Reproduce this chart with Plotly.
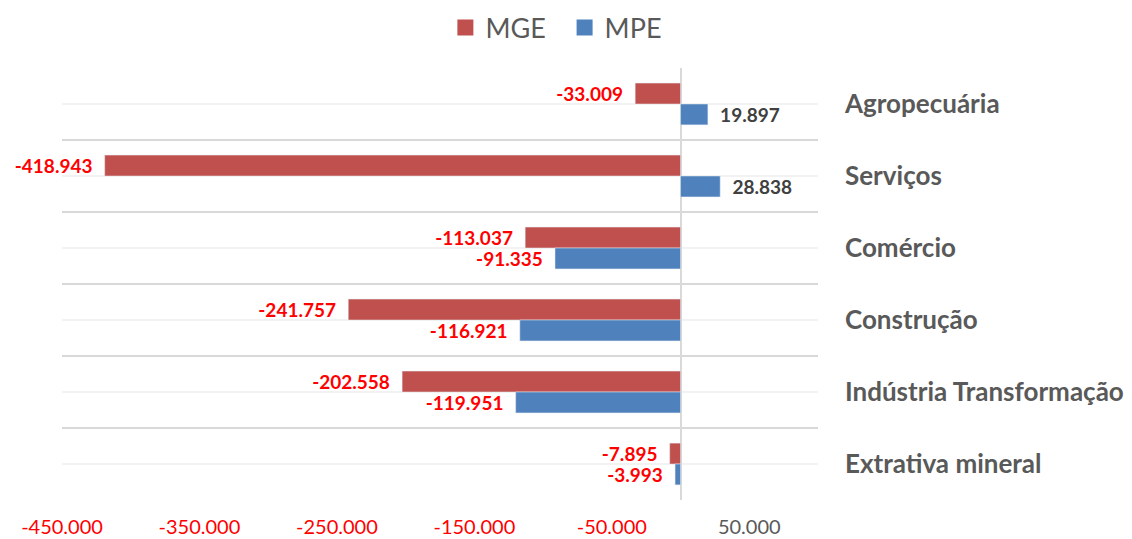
import plotly.graph_objects as go

# categories, top to bottom as read on the chart
categories = ["Agropecuária", "Serviços", "Comércio", "Construção",
              "Indústria Transformação", "Extrativa mineral"]
mge = [-33009, -418943, -113037, -241757, -202558, -7895]
mpe = [19897, 28838, -91335, -116921, -119951, -3993]

tick_vals = [-450000, -350000, -250000, -150000, -50000, 50000]
tick_text = ["-450.000", "-350.000", "-250.000", "-150.000", "-50.000", "50.000"]

RED = "#C0504D"
BLUE = "#4F81BD"
FONT = "Lato"


def label_colors(values):
    return ["#FF0000" if v < 0 else "#404040" for v in values]


fig = go.Figure()

for name, vals, color in [("MGE", mge, RED), ("MPE", mpe, BLUE)]:
    fig.add_trace(go.Bar(
        y=categories, x=vals, name=name, orientation="h",
        marker=dict(color=color), showlegend=False,
        texttemplate="\u00a0\u00a0%{x:,.0f}\u00a0\u00a0", textposition="outside",
        constraintext="none",
        textfont=dict(family=FONT, size=19, color=label_colors(vals), weight="bold"),
        cliponaxis=False,
    ))

# legend entries with bigger square swatches, like the original
for name, color in [("MGE\u00a0\u00a0", RED), ("MPE", BLUE)]:
    fig.add_trace(go.Scatter(
        x=[None], y=[None], mode="markers", name=name,
        marker=dict(symbol="square", size=18, color=color),
    ))

# light gridline through the middle of each category band
for c in categories:
    fig.add_shape(type="line", xref="paper", x0=0, x1=1, yref="y", y0=c, y1=c,
                  line=dict(color="#F2F2F2", width=2), layer="below")

# negative tick labels in red, positive in gray
colored_ticks = [
    f'<span style="color:{"#FF0000" if v < 0 else "#595959"}">{t}</span>'
    for v, t in zip(tick_vals, tick_text)
]

fig.update_layout(
    width=1132, height=539,
    margin=dict(l=62, r=314, t=68, b=39, autoexpand=False),
    paper_bgcolor="white", plot_bgcolor="white",
    barmode="group", bargap=0.42, bargroupgap=0,
    separators=",.",
    font=dict(family=FONT, color="#595959"),
    showlegend=True,
    legend=dict(orientation="h", xref="container", x=0.4915, xanchor="center",
                yref="container", y=0.948, yanchor="middle",
                font=dict(size=27, color="#595959"), itemwidth=30),
    xaxis=dict(range=[-450000, 100000], tickvals=tick_vals, ticktext=colored_ticks,
               showgrid=False, zeroline=True, zerolinecolor="#D9D9D9", zerolinewidth=2,
               showline=False, ticks="", ticklabelstandoff=13, automargin=False,
               tickfont=dict(size=20)),
    yaxis=dict(autorange="reversed", side="right", tickson="boundaries",
               showgrid=True, gridcolor="#D9D9D9", gridwidth=2,
               showline=False, ticks="", ticklabelstandoff=26, automargin=False,
               tickfont=dict(size=26, color="#595959", weight="bold")),
)

# drop the default page margin so the figure sits at the window's corner
fig.write_html("out.html", config={"displayModeBar": False},
               post_script="document.body.style.margin='0';")
